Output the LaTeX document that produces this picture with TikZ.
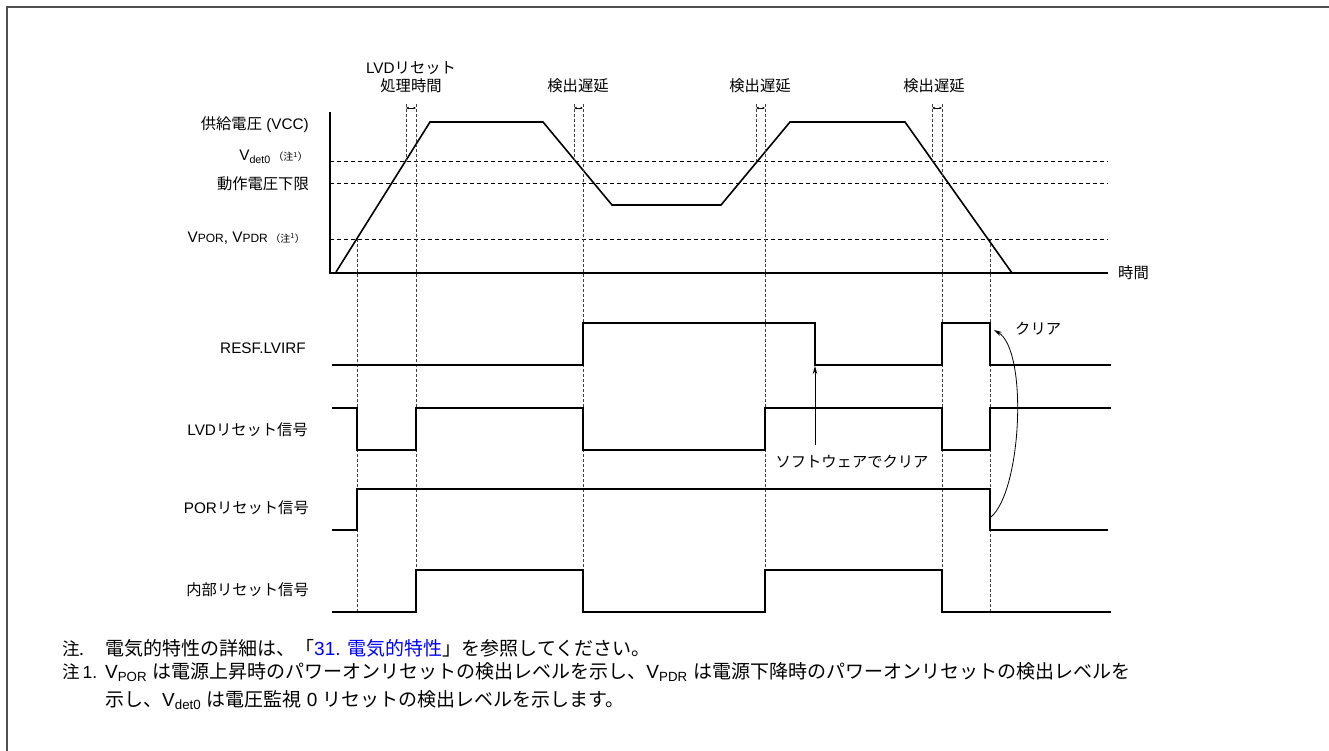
\documentclass[tikz,border=0pt]{standalone}
\usepackage{fontspec}
\setmainfont{Liberation Sans}
\newfontfamily\jp{Noto Sans CJK JP}
\usetikzlibrary{arrows.meta}
\definecolor{linkblue}{RGB}{0,0,255}
\definecolor{framegray}{RGB}{80,80,80}
\begin{document}
\begin{tikzpicture}[x=1pt,y=-1pt,
  lbl/.style={font=\fontsize{15.3}{18}\selectfont, inner sep=0pt},
  note/.style={font=\fontsize{19}{22}\selectfont, inner sep=0pt, anchor=base west},
  notehead/.style={font=\fontsize{17.5}{21}\selectfont, inner sep=0pt, anchor=base west},
  hdash/.style={line width=0.9pt, dash pattern=on 4pt off 3pt},
  vdash/.style={line width=0.7pt, dash pattern=on 3pt off 2pt, black!75},
  wave/.style={line width=1.6pt, line join=miter},
  sig/.style={line width=1.5pt},
  marker/.style={line width=0.5pt, {Latex[length=2.5pt,width=2.5pt]}-{Latex[length=2.5pt,width=2.5pt]}},
  clr/.style={line width=0.8pt, -{Stealth[length=8pt,width=4.5pt]}}
]
\useasboundingbox (0,0) rectangle (1329,751);
% frame
\draw[framegray, line width=2pt] (7,751) -- (7,7) -- (1329,7);

% ---------- voltage chart ----------
\draw[line width=1.8pt] (330,112) -- (330,273) -- (1108,273);
\node[lbl, anchor=west] (time) at (1118,273) {\jp 時間};
% horizontal dashed levels
\draw[hdash] (330,161) -- (1108,161);
\draw[hdash] (330,183) -- (1108,183);
\draw[hdash] (330,239) -- (1108,239);
% VCC curve
\draw[wave] (336,272) -- (430,122) -- (543,122) -- (612,205) -- (721,205) -- (790,122) -- (905,122) -- (1012,273);

% level labels
\node[lbl, anchor=east] (vcc) at (309,125) {{\jp 供給電圧} (VCC)};
\node[lbl, anchor=east] (vdet) at (308,157) {V\textsubscript{det0}\,{\fontsize{10}{12}\selectfont\jp （注\textsuperscript{1}）}};
\node[lbl, anchor=east] (vmin) at (309,184) {\jp 動作電圧下限};
\node[lbl, anchor=east] (vpor) at (305,238) {V{\fontsize{12}{14}\selectfont POR}, V{\fontsize{12}{14}\selectfont PDR}\,{\fontsize{10}{12}\selectfont\jp （注\textsuperscript{1}）}};

% top labels
\node[lbl, align=center] (lvdt) at (411,77) {LVD{\jp リセット}\\[0pt]{\jp 処理時間}};
\node[lbl] (det1) at (578,86) {\jp 検出遅延};
\node[lbl] (det2) at (760,86) {\jp 検出遅延};
\node[lbl] (det3) at (934,86) {\jp 検出遅延};

% short dashed verticals (threshold crossings)
\foreach \x in {406,574,756,932} \draw[vdash] (\x,104) -- (\x,161);
% markers
\draw[marker] (406,108) -- (416,108);
\draw[marker] (574,108) -- (583,108);
\draw[marker] (756,108) -- (765,108);
\draw[marker] (932,108) -- (942,108);
% long dashed verticals
\foreach \x in {416,583,765,942} \draw[vdash] (\x,104) -- (\x,612);
\foreach \x in {357,990} \draw[vdash] (\x,239) -- (\x,612);

% ---------- signals ----------
\node[lbl, anchor=east] (resf) at (306,348) {RESF.LVIRF};
\node[lbl, anchor=east] (lvd) at (308,430) {LVD{\jp リセット信号}};
\node[lbl, anchor=east] (por) at (309,508) {POR{\jp リセット信号}};
\node[lbl, anchor=east] (irst) at (309,590) {\jp 内部リセット信号};

\draw[sig] (332,365) -- (583,365) -- (583,323) -- (815,323) -- (815,365) -- (942,365) -- (942,323) -- (990,323) -- (990,365) -- (1111,365);
\draw[sig] (332,408) -- (357,408) -- (357,450) -- (416,450) -- (416,408) -- (583,408) -- (583,450) -- (765,450) -- (765,408) -- (942,408) -- (942,450) -- (990,450) -- (990,408) -- (1111,408);
\draw[sig] (332,530) -- (357,530) -- (357,489) -- (990,489) -- (990,530) -- (1108,530);
\draw[sig] (332,612) -- (416,612) -- (416,570) -- (583,570) -- (583,612) -- (765,612) -- (765,570) -- (942,570) -- (942,612) -- (1111,612);

% software clear
\node[lbl] (swc) at (852,462) {\jp ソフトウェアでクリア};
\coordinate (swhead) at (815,366);
\draw[clr] (swc.north -| swhead) ++(0,-10) -- (swhead);
% clear
\node[lbl, anchor=west] (clrl) at (1015,329) {\jp クリア};
\coordinate (clrtail) at (991,517);
\coordinate (clrhead) at (994,330);
\draw[clr] (clrtail) .. controls (1022,490) and (1028,350) .. (clrhead);

% ---------- notes ----------
\node[notehead] (n0) at (62,655) {\jp 注.};
\node[note] (n0t) at (105,655) {{\jp 電気的特性の詳細は、「}\textcolor{linkblue}{31. {\jp 電気的特性}}{\jp 」を参照してください。}};
\node[notehead] (n1) at (62,678) {{\jp 注}\,1.};
\node[note] (n1t) at (105,678) {V\textsubscript{POR} {\jp は電源上昇時のパワーオンリセットの検出レベルを示し、}V\textsubscript{PDR} {\jp は電源下降時のパワーオンリセットの検出レベルを}};
\node[note] (n2t) at (105,706) {{\jp 示し、}V\textsubscript{det0} {\jp は電圧監視} 0 {\jp リセットの検出レベルを示します。}};
\end{tikzpicture}
\end{document}
